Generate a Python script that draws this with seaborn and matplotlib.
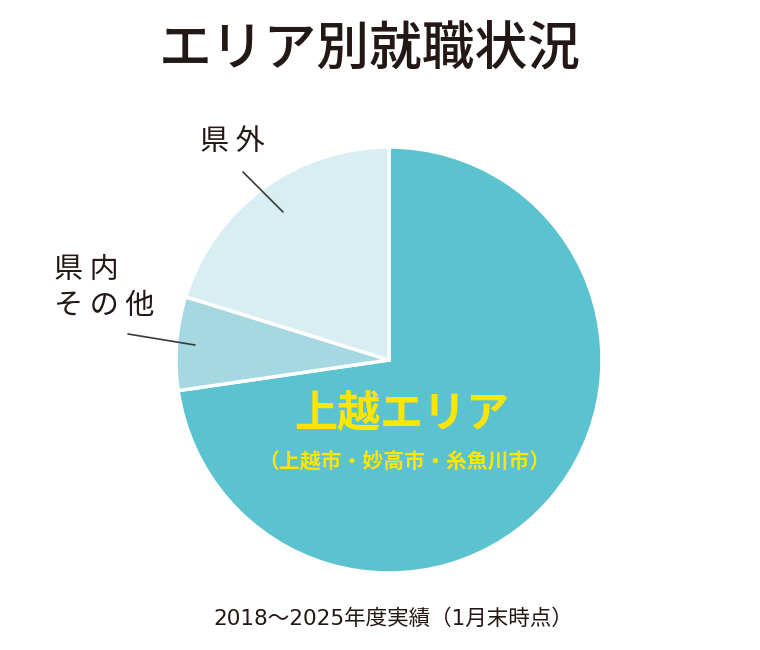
import matplotlib
matplotlib.use("Agg")
import matplotlib.pyplot as plt
import seaborn as sns

areas = ["上越エリア", "県内その他", "県外"]
shares = [72.7, 7.1, 20.2]
colors = ["#5bc2cf", "#a5d8e0", "#d9eef3"]

title = "エリア別就職状況"
main_label = "上越エリア"
main_sub = "（上越市・妙高市・糸魚川市）"
note = "2018～2025年度実績（1月末時点）"

sns.set_theme(style="white")
plt.rcParams["font.family"] = ["Noto Sans CJK JP", "DejaVu Sans"]

fig = plt.figure(figsize=(7.6, 6.5), dpi=100)
ax = fig.add_axes([0, 0, 1, 1])
ax.axis("off")

H = 650
ax.pie(shares, colors=colors, startangle=90, counterclock=False,
       center=(389, H - 360), radius=213,
       wedgeprops=dict(edgecolor="white", linewidth=2.5))
ax.set_xlim(0, 760)
ax.set_ylim(0, 650)
ax.set_aspect("equal")

dark = "#231815"
ax.text(370, H - 50, title, ha="center", va="center", fontsize=38,
        fontweight="medium", color=dark)

# labels outside the pie
ax.text(232, H - 142, "県 外", ha="center", va="center", fontsize=21, color=dark)
ax.plot([243, 283], [H - 172, H - 212], color="#3a3a3a", lw=1.2)
ax.text(54, H - 270, "県 内", ha="left", va="center", fontsize=21, color=dark)
ax.text(54, H - 306, "そ の 他", ha="left", va="center", fontsize=21, color=dark)
ax.plot([128, 195], [H - 334, H - 345], color="#3a3a3a", lw=1.2)

# main slice label
ax.text(402, H - 414, main_label, ha="center", va="center", fontsize=31,
        fontweight="bold", color="#ffe600")
ax.text(404, H - 462, main_sub, ha="center", va="center", fontsize=15,
        fontweight="bold", color="#ffe600")

ax.text(393, H - 619, note, ha="center", va="center", fontsize=15.5,
        color=dark, family=["DejaVu Sans", "Noto Sans CJK JP"])

fig.savefig("out.png", dpi=100, facecolor="white")
